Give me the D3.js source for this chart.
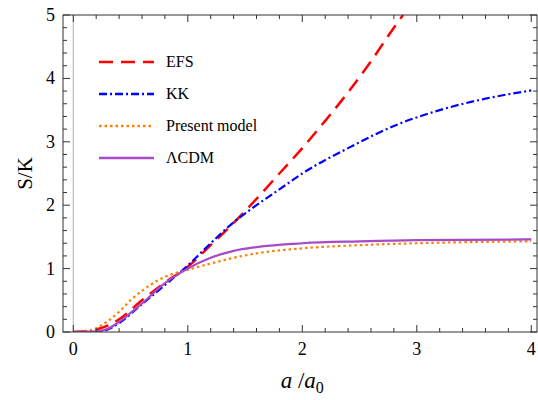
<!DOCTYPE html>
<html><head><meta charset="utf-8">
<script src="https://cdn.jsdelivr.net/npm/d3@7"></script>
<style>body{margin:0;background:#fff}</style>
</head><body><svg id="c" width="538" height="400" font-family="'Liberation Serif','DejaVu Serif','Times New Roman',serif"></svg>
<script>
var efs = [[0,0],[0.1,0.01],[0.2,0.04],[0.3,0.1],[0.4,0.2],[0.6,0.5],[0.8,0.78],[1,1.03],[1.2,1.37],[1.4,1.72],[1.6,2.1],[1.8,2.5],[2,2.9],[2.2,3.33],[2.4,3.78],[2.6,4.27],[2.8,4.8],[2.88,5]];
var kk = [[0,0],[0.2,0],[0.3,0.04],[0.4,0.14],[0.6,0.44],[0.8,0.74],[1,1.05],[1.2,1.4],[1.4,1.73],[1.6,2.0],[1.8,2.25],[2,2.5],[2.4,2.9],[2.8,3.25],[3.2,3.5],[3.6,3.68],[4,3.81]];
var present = [[0,0],[0.1,0.01],[0.2,0.06],[0.3,0.17],[0.4,0.32],[0.5,0.5],[0.6,0.65],[0.8,0.87],[1,0.98],[1.2,1.08],[1.4,1.17],[1.6,1.24],[2,1.32],[2.5,1.37],[3,1.4],[4,1.43]];
var lcdm = [[0,0],[0.2,0.01],[0.3,0.05],[0.4,0.16],[0.5,0.3],[0.6,0.45],[0.8,0.77],[1,1.0],[1.2,1.17],[1.4,1.28],[1.6,1.34],[2,1.4],[2.5,1.43],[3,1.45],[4,1.46]];
var xTicks = [0,1,2,3,4], yTicks = [0,1,2,3,4,5];
var series = [
  {name:"EFS", d:efs, c:"#ff0000", dash:"14,8"},
  {name:"KK", d:kk, c:"#0000ff", dash:"8,3,2,3"},
  {name:"Present model", d:present, c:"#ff8000", dash:"2.5,3"},
  {name:"\u039bCDM", d:lcdm, c:"#a64ac9", dash:null}
];
var svg = d3.select("#c");
var L=63,R=537,T=15,B=332;
var x = d3.scaleLinear().domain([-0.09,4.05]).range([L,R]);
var y = d3.scaleLinear().domain([0,5]).range([B,T]);
var g = svg.append("g");
g.append("clipPath").attr("id","cp").append("rect").attr("x",L).attr("y",T).attr("width",R-L).attr("height",B-T);
g.append("line").attr("x1",x(0)).attr("x2",x(0)).attr("y1",T).attr("y2",B).attr("stroke","#bbb").attr("stroke-width",1.2);
var line = d3.line().x(d=>x(d[0])).y(d=>y(d[1])).curve(d3.curveMonotoneX);
series.forEach(function(s){
  g.append("path").attr("d",line(s.d)).attr("fill","none").attr("stroke",s.c).attr("stroke-width",s.name=="EFS"?2.5:2.2)
   .attr("stroke-dasharray",s.dash).attr("clip-path","url(#cp)");
});
g.append("rect").attr("x",L).attr("y",T).attr("width",R-L).attr("height",B-T).attr("fill","none").attr("stroke","#333").attr("stroke-width",1);
d3.range(0,4.05,0.2).forEach(function(v){var maj=Math.abs(v-Math.round(v))<1e-6;
  [[B,-1],[T,1]].forEach(function(p){g.append("line").attr("x1",x(v)).attr("x2",x(v)).attr("y1",p[0]).attr("y2",p[0]+p[1]*(maj?7:4)).attr("stroke","#333");});});
d3.range(0,5.01,0.2).forEach(function(v){var maj=Math.abs(v-Math.round(v))<1e-6;
  [[L,1],[R,-1]].forEach(function(p){g.append("line").attr("y1",y(v)).attr("y2",y(v)).attr("x1",p[0]).attr("x2",p[0]+p[1]*(maj?7:4)).attr("stroke","#333");});});
xTicks.forEach(v=>g.append("text").attr("x",x(v)).attr("y",B+23).attr("text-anchor","middle").attr("font-size",18).text(v));
yTicks.forEach(v=>g.append("text").attr("x",L-8).attr("y",y(v)+6).attr("text-anchor","end").attr("font-size",18).text(v));
svg.append("text").attr("transform","translate(32,"+((T+B)/2)+") rotate(-90)").attr("text-anchor","middle").attr("font-size",21).text("S/K");
var xl = svg.append("text").attr("x",x(2)).attr("y",388).attr("text-anchor","middle").attr("font-size",23);
xl.append("tspan").attr("font-style","italic").text("a");
xl.append("tspan").text(" /");
xl.append("tspan").attr("font-style","italic").text("a");
xl.append("tspan").attr("font-size",16).attr("dy",5).text("0");
series.forEach(function(s,i){
  var yy = 62+i*32;
  g.append("line").attr("x1",99).attr("x2",154).attr("y1",yy).attr("y2",yy).attr("stroke",s.c).attr("stroke-width",2.5).attr("stroke-dasharray",s.dash);
  g.append("text").attr("x",166).attr("y",yy+5).attr("font-size",16).text(s.name);
});
</script></body></html>
